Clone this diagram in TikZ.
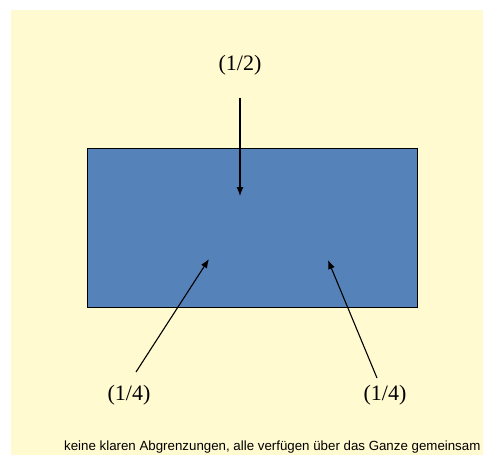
\documentclass[tikz,border=0pt]{standalone}
\usepackage{fontspec}
\setmainfont{Liberation Serif}
\newfontfamily\arialfont{Liberation Sans}
\usetikzlibrary{arrows.meta}
\definecolor{cream}{RGB}{255,250,208}
\definecolor{boxblue}{RGB}{85,130,185}
\tikzset{
  lbl/.style={font=\fontsize{22}{24}\selectfont, inner sep=0pt},
  arr/.style={draw=black, line width=1.1pt, -{Latex[length=9pt,width=7pt]}},
}
\begin{document}
\begin{tikzpicture}[x=1pt,y=-1pt]
\useasboundingbox (0,0) rectangle (483,455);
\fill[white] (0,0) rectangle (483,455);
\fill[cream] (11,10) rectangle (483,455);
\node[draw=black, line width=0.8pt, fill=boxblue, minimum width=330pt, minimum height=159pt, inner sep=0pt] (box) at (252,227.5) {};
\node[lbl] (half) at (240,65) {(1/2)};
\node[lbl] (qleft) at (129,395) {(1/4)};
\node[lbl] (qright) at (385,395) {(1/4)};
\coordinate (a1s) at (240,98);
\coordinate (a1e) at (240,196);
\coordinate (a2s) at (136,372);
\coordinate (a2e) at (209,259);
\coordinate (a3s) at (377,378);
\coordinate (a3e) at (328,260);
\draw[arr] (a1s) -- (a1e);
\draw[arr] (a2s) -- (a2e);
\draw[arr] (a3s) -- (a3e);
\node[anchor=base west, inner sep=0pt, font=\arialfont\fontsize{13.3}{14}\selectfont] (caption) at (64,450) {keine klaren Abgrenzungen, alle verfügen über das Ganze gemeinsam};
\end{tikzpicture}
\end{document}
